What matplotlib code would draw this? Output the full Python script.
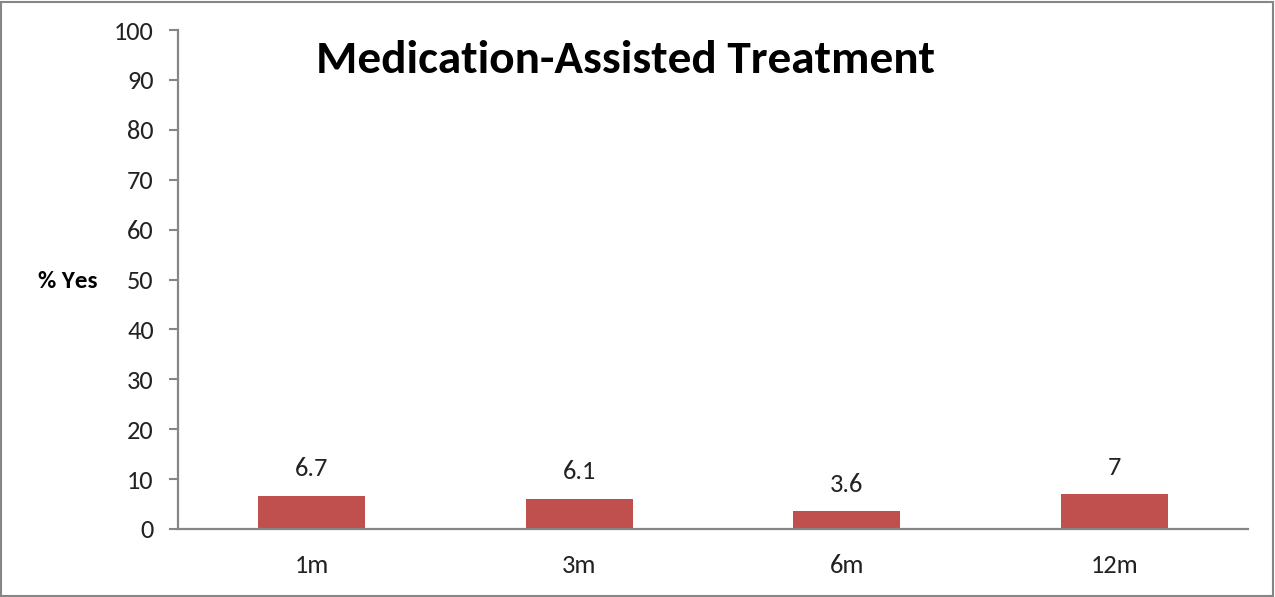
import matplotlib
matplotlib.use("Agg")
import matplotlib.pyplot as plt
from matplotlib.patches import Rectangle

categories = ["1m", "3m", "6m", "12m"]
values = [6.7, 6.1, 3.6, 7]
value_labels = ["6.7", "6.1", "3.6", "7"]
yticks = list(range(0, 101, 10))

plt.rcParams['font.family'] = ['Carlito', 'Lato', 'DejaVu Sans']

fig = plt.figure(figsize=(12.75, 5.97), dpi=100)
ax = fig.add_axes([178/1275, 1-529/597, (1248-178)/1275, (529-30)/597])

gray = '#868686'
x = list(range(len(categories)))
bars = ax.bar(x, values, width=0.4, color='#C0504D', zorder=2)
for xi, v, lab in zip(x, values, value_labels):
    ax.annotate(lab, (xi, v), xytext=(0, 11), textcoords='offset points',
                ha='center', va='bottom', fontsize=19, color='#222222')

ax.set_xlim(-0.5, len(categories) - 0.5)
ax.set_ylim(0, 100)
ax.set_yticks(yticks)
ax.set_xticks(x)
ax.set_xticklabels(categories)
ax.tick_params(axis='y', direction='out', length=6.5, width=1.5, color=gray,
               labelsize=19, labelcolor='#222222', pad=11)
ax.tick_params(axis='x', length=0, labelsize=19, labelcolor='#222222', pad=18)
for s in ['top', 'right']:
    ax.spines[s].set_visible(False)
for s in ['left', 'bottom']:
    ax.spines[s].set_color(gray)
    ax.spines[s].set_linewidth(1.6)

ax.text(0.418, 0.94, "Medication-Assisted Treatment", transform=ax.transAxes,
        ha='center', va='center', fontsize=34, fontweight='bold', color='black')
fig.text(68/1275, 1-281/597, "% Yes", ha='center', va='center',
         fontsize=18, fontweight='bold', color='black')

fig.patches.append(Rectangle((1/1275, 1/597), 1-3/1275, 1-3/597, transform=fig.transFigure,
                             fill=False, edgecolor=gray, linewidth=1.5))

fig.savefig("out.png", dpi=100)
